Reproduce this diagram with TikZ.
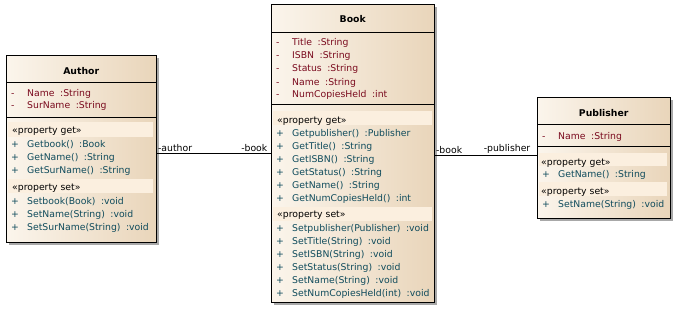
\documentclass[tikz,border=0pt]{standalone}
\usepackage{fontspec}
\setmainfont{DejaVu Sans}
\usetikzlibrary{positioning}
\definecolor{boxleft}{HTML}{FBF5EC}
\definecolor{boxright}{HTML}{E9D5BA}
\definecolor{bandfill}{HTML}{FBEFDF}
\definecolor{attrcol}{HTML}{7A0A1E}
\definecolor{opcol}{HTML}{0F4B5C}
\definecolor{shadowcol}{HTML}{A8A8A8}
\newcommand{\tgap}{\hspace{5.5pt}}
\newcommand{\rowfont}{\fontsize{9.3}{10}\selectfont}
\tikzset{
  classbox/.style={draw=black, left color=boxleft, right color=boxright,
                   anchor=north west, inner sep=0pt},
  shadowbox/.style={fill=shadowcol},
  classname/.style={font=\rowfont\bfseries, inner sep=0pt},
  attrtxt/.style={font=\rowfont, text=attrcol, anchor=base west, inner sep=0pt},
  optxt/.style={font=\rowfont, text=opcol, anchor=base west, inner sep=0pt},
  stereo/.style={font=\rowfont, text=black, anchor=base west, inner sep=0pt},
  band/.style={fill=bandfill},
  assoc/.style={draw=black, thin},
  rolelabel/.style={font=\rowfont, inner sep=1.5pt}
}

\begin{document}
\begin{tikzpicture}[x=1pt, y=-1pt]
\useasboundingbox (0,0) rectangle (676,310);

% --- Author ---
\fill[shadowbox] (9,58) rectangle (159,245);
\node[classbox, minimum width=150pt, minimum height=187pt] (author) at (6,55) {};
\node[classname] (author-name) at ([yshift=-16pt]author.north) {Author};
\draw ([yshift=-27pt]author.north west) -- ([yshift=-27pt]author.north east);
\draw ([yshift=-62pt]author.north west) -- ([yshift=-62pt]author.north east);
\foreach \yy/\txt [count=\i] in {96/{Name\tgap:String}, 109/{SurName\tgap:String}} {
  \node[attrtxt] (author-am\i) at (11,\yy) {-};
  \node[attrtxt] (author-a\i) at (27,\yy) {\txt};
}
\fill[band] (8,122) rectangle (153,137);
\node[stereo] (author-get) at (12,133) {«property get»};
\foreach \yy/\txt [count=\i] in {147/{Getbook()\tgap:Book}, 160/{GetName()\tgap:String},
                                 173/{GetSurName()\tgap:String}} {
  \node[optxt] (author-gm\i) at (11,\yy) {+};
  \node[optxt] (author-g\i) at (27,\yy) {\txt};
}
\fill[band] (8,179) rectangle (153,193);
\node[stereo] (author-set) at (12,190) {«property set»};
\foreach \yy/\txt [count=\i] in {204/{Setbook(Book)\tgap:void}, 217/{SetName(String)\tgap:void},
                                 230/{SetSurName(String)\tgap:void}} {
  \node[optxt] (author-sm\i) at (11,\yy) {+};
  \node[optxt] (author-s\i) at (27,\yy) {\txt};
}

% --- Book ---
\fill[shadowbox] (274,7) rectangle (437,305);
\node[classbox, minimum width=163pt, minimum height=298pt] (book) at (271,4) {};
\node[classname] (book-name) at ([yshift=-15pt]book.north) {Book};
\draw ([yshift=-28pt]book.north west) -- ([yshift=-28pt]book.north east);
\draw ([yshift=-100pt]book.north west) -- ([yshift=-100pt]book.north east);
\foreach \yy/\txt [count=\i] in {46/{Title\tgap:String}, 59/{ISBN\tgap:String},
                                 72/{Status\tgap:String}, 85/{Name\tgap:String},
                                 98/{NumCopiesHeld\tgap:int}} {
  \node[attrtxt] (book-am\i) at (276,\yy) {-};
  \node[attrtxt] (book-a\i) at (292,\yy) {\txt};
}
\fill[band] (273,111) rectangle (432,125);
\node[stereo] (book-get) at (277,123) {«property get»};
\foreach \yy/\txt [count=\i] in {136/{Getpublisher()\tgap:Publisher}, 149/{GetTitle()\tgap:String},
                                 162/{GetISBN()\tgap:String}, 175/{GetStatus()\tgap:String},
                                 188/{GetName()\tgap:String}, 201/{GetNumCopiesHeld()\tgap:int}} {
  \node[optxt] (book-gm\i) at (276,\yy) {+};
  \node[optxt] (book-g\i) at (292,\yy) {\txt};
}
\fill[band] (273,207) rectangle (432,221);
\node[stereo] (book-set) at (277,217) {«property set»};
\foreach \yy/\txt [count=\i] in {231/{Setpublisher(Publisher)\tgap:void}, 244/{SetTitle(String)\tgap:void},
                                 257/{SetISBN(String)\tgap:void}, 270/{SetStatus(String)\tgap:void},
                                 283/{SetName(String)\tgap:void}, 296/{SetNumCopiesHeld(int)\tgap:void}} {
  \node[optxt] (book-sm\i) at (276,\yy) {+};
  \node[optxt] (book-s\i) at (292,\yy) {\txt};
}

% --- Publisher ---
\fill[shadowbox] (540,100) rectangle (673,221);
\node[classbox, minimum width=133pt, minimum height=121pt] (publisher) at (537,97) {};
\node[classname] (publisher-name) at ([yshift=-16pt]publisher.north) {Publisher};
\draw ([yshift=-27pt]publisher.north west) -- ([yshift=-27pt]publisher.north east);
\draw ([yshift=-49pt]publisher.north west) -- ([yshift=-49pt]publisher.north east);
\node[attrtxt] (publisher-am1) at (542,139) {-};
\node[attrtxt] (publisher-a1) at (558,139) {Name\tgap:String};
\fill[band] (539,153) rectangle (667,166);
\node[stereo] (publisher-get) at (541,165) {«property get»};
\node[optxt] (publisher-gm1) at (542,177) {+};
\node[optxt] (publisher-g1) at (558,177) {GetName()\tgap:String};
\fill[band] (539,182) rectangle (667,196);
\node[stereo] (publisher-set) at (541,194) {«property set»};
\node[optxt] (publisher-sm1) at (542,207) {+};
\node[optxt] (publisher-s1) at (558,207) {SetName(String)\tgap:void};

% --- Associations ---
\draw[assoc] (book.west -| author.east) -- (book.west)
  node[rolelabel, pos=0, above right] {-author}
  node[rolelabel, pos=1, above left, xshift=-2pt] {-book};
\draw[assoc] ([yshift=2.5pt]publisher.west -| book.east) -- ([yshift=2.5pt]publisher.west)
  node[rolelabel, pos=0, above right] {-book}
  node[rolelabel, pos=1, above left, xshift=-5pt] {-publisher};

\end{tikzpicture}
\end{document}
